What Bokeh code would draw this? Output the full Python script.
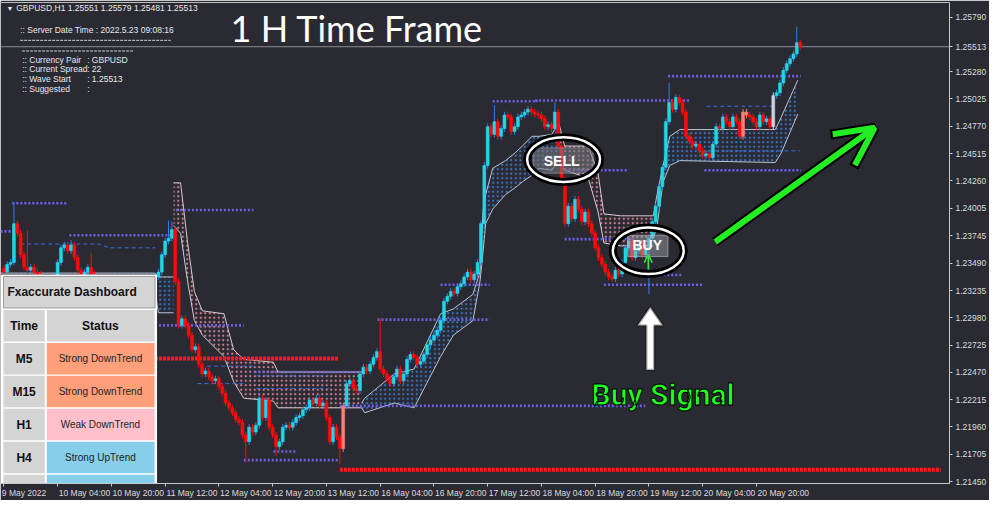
import numpy as np
from bokeh.plotting import figure
from bokeh.models import Range1d, FixedTicker, PrintfTickFormatter, Arrow, OpenHead, PolyAnnotation, Span
from bokeh.core.properties import value
from bokeh.embed import file_html
from bokeh.resources import INLINE

# ---------------- data ----------------
closes = [
    1.23407, 1.23480, 1.23498, 1.23860, 1.23770, 1.23570, 1.23453, 1.23425, 1.23453, 1.23407,
    1.23389, 1.23317, 1.23271, 1.23298, 1.23335, 1.23362, 1.23498, 1.23634, 1.23661, 1.23607,
    1.23661, 1.23543, 1.23425, 1.23380, 1.23407, 1.23453, 1.23389, 1.23317, 1.23271, 1.23226,
    1.23244, 1.23208, 1.23226, 1.23262, 1.23226, 1.23199, 1.23244, 1.23226, 1.23262, 1.23226,
    1.23244, 1.23271, 1.23253, 1.23298, 1.23317, 1.23362, 1.23407, 1.23570, 1.23697, 1.23724,
    1.23806, 1.23317, 1.22909, 1.22972, 1.22909, 1.22818, 1.22682, 1.22710, 1.22546, 1.22456,
    1.22483, 1.22429, 1.22392, 1.22410, 1.22338, 1.22275, 1.22184, 1.22139, 1.22093, 1.22030,
    1.22003, 1.21885, 1.21822, 1.21958, 1.21912, 1.21976, 1.22229, 1.22048, 1.22211, 1.21958,
    1.21885, 1.21776, 1.21822, 1.21958, 1.21976, 1.21958, 1.22003, 1.22048, 1.22066, 1.22121,
    1.22139, 1.22211, 1.22184, 1.22229, 1.22157, 1.22184, 1.22048, 1.21822, 1.21958, 1.21867,
    1.21758, 1.22157, 1.22365, 1.22392, 1.22320, 1.22302, 1.22456, 1.22519, 1.22483, 1.22546,
    1.22610, 1.22664, 1.22501, 1.22456, 1.22410, 1.22365, 1.22429, 1.22501, 1.22392, 1.22456,
    1.22592, 1.22637, 1.22610, 1.22546, 1.22574, 1.22637, 1.22728, 1.22773, 1.22818, 1.22864,
    1.22954, 1.23135, 1.23181, 1.23226, 1.23208, 1.23271, 1.23298, 1.23362, 1.23407, 1.23335,
    1.23389, 1.23498, 1.23860, 1.24404, 1.24766, 1.24694, 1.24812, 1.24676, 1.24748, 1.24875,
    1.24857, 1.24721, 1.24766, 1.24857, 1.24875, 1.24902, 1.24929, 1.24902, 1.24884, 1.24875,
    1.24839, 1.24766, 1.24785, 1.24748, 1.24902, 1.24585, 1.24268, 1.23860, 1.24023, 1.23906,
    1.24087, 1.23996, 1.23878, 1.23969, 1.23860, 1.23770, 1.23634, 1.23543, 1.23480, 1.23407,
    1.23362, 1.23344, 1.23425, 1.23389, 1.23498, 1.23634, 1.23697, 1.23543, 1.23607, 1.23661,
    1.23570, 1.23634, 1.23724, 1.23878, 1.24023, 1.24205, 1.24386, 1.24812, 1.24993, 1.24929,
    1.25038, 1.24993, 1.24902, 1.24676, 1.24630, 1.24585, 1.24603, 1.24540, 1.24495, 1.24513,
    1.24476, 1.24603, 1.24766, 1.24748, 1.24857, 1.24812, 1.24766, 1.24857, 1.24812, 1.24676,
    1.24902, 1.24875, 1.24857, 1.24812, 1.24766, 1.24875, 1.24812, 1.24839, 1.24766, 1.25056,
    1.25083, 1.25174, 1.25292, 1.25355, 1.25401, 1.25446, 1.25551, 1.25513,
]
first_open = 1.23440
high_marks = {3: 1.24059, 7: 1.23797, 20: 1.23706, 26: 1.23588, 49: 1.23888, 50: 1.23879,
              112: 1.22972, 146: 1.24966, 164: 1.24993, 198: 1.25174, 236: 1.25700, 237: 1.25579}
low_marks = {72: 1.21622, 81: 1.21685, 100: 1.21613, 181: 1.23317, 192: 1.23199, 237: 1.25481}
typical_wick = 0.00030
special_colors = {101: "#fa8072", 220: "#fa8072", 221: "#fa8072", 229: "#c9d3e6"}

# cloud band segments (candle index, upper, lower)
blue1_idx = [-1.0, 45.0, 46.0, 50.5]
blue1_top = [1.23398, 1.23398, 1.23362, 1.23362]
blue1_bot = [1.23226, 1.23226, 1.23027, 1.23027]
pink1_idx = [50.5, 52.6, 54.7, 56.7, 59.1, 65.5, 68.4, 71.4, 80.2, 81.6, 106.5]
pink1_top = [1.24241, 1.24241, 1.23679, 1.23226, 1.23045, 1.23018, 1.22682, 1.22592, 1.22565, 1.22474, 1.22474]
pink1_bot = [1.23842, 1.23770, 1.23317, 1.22954, 1.22818, 1.22619, 1.22383, 1.22229, 1.22202, 1.22139, 1.22139]
blue2_idx = [106.5, 107.4, 116.2, 122.1, 130.0, 133.8, 139.6, 141.7, 142.6, 143.4, 145.5, 149.3, 152.2,
             154.3, 157.2, 159.3, 163.1, 165.1]
blue2_top = [1.22184, 1.22229, 1.22456, 1.22501, 1.23018, 1.23063, 1.23199, 1.23407, 1.23978, 1.24132,
             1.24377, 1.24449, 1.24522, 1.24585, 1.24676, 1.24676, 1.24694, 1.24811]
blue2_bot = [1.22139, 1.22093, 1.22184, 1.22139, 1.22619, 1.22818, 1.22954, 1.23317, 1.23588, 1.23860,
             1.23996, 1.24132, 1.24196, 1.24250, 1.24313, 1.24377, 1.24359, 1.24449]
pink2_idx = [165.1, 166.9, 173.9, 176.8, 178.6, 183.6, 193.3]
pink2_top = [1.24811, 1.24585, 1.24585, 1.24341, 1.23951, 1.23933, 1.23933]
pink2_bot = [1.24449, 1.24359, 1.24286, 1.23978, 1.23679, 1.23652, 1.23652]
blue3_idx = [193.3, 194.4, 196.2, 198.2, 201.2, 229.6, 231.4, 236.3]
blue3_top = [1.23933, 1.24132, 1.24404, 1.24676, 1.24739, 1.24739, 1.24857, 1.25201]
blue3_bot = [1.23724, 1.23833, 1.24250, 1.24404, 1.24449, 1.24431, 1.24522, 1.24884]

# dotted support / resistance levels
level_start = [2.5, -1.0, 19.5, 51.2, 45.0, 74.6, 71.4, 111.2, 145.5, 158.1, 166.9, 166.9, 178.6,
               130.0, 100.0, 197.7, 208.5, 190.3, 80.2]
level_end = [18.9, 4.0, 49.7, 74.3, 71.4, 106.5, 99.5, 144.6, 158.9, 204.1, 186.0, 187.4, 207.9,
             144.6, 190.9, 237.2, 237.2, 202.1, 86.9]
level_price = [1.24051, 1.23788, 1.23752, 1.23987, 1.22909, 1.22474, 1.21650, 1.22963, 1.25003,
               1.25011, 1.24359, 1.23715, 1.23289, 1.23289, 1.22157, 1.25238, 1.24359, 1.23380, 1.21731]
red_start = [45.0, 100.0]
red_end = [99.5, 278.8]
red_price = [1.22601, 1.21560]
dash_xs = [[4.9, 28.3, 31.2, 45.0], [60.5, 74.3], [57.6, 72.2], [75.2, 96.6], [75.2, 96.6],
           [209.1, 229.6], [209.4, 236.9]]
dash_ys = [[1.23670, 1.23670, 1.23634, 1.23634], [1.22528, 1.22528], [1.22365, 1.22365],
           [1.22438, 1.22438], [1.22320, 1.22320], [1.24957, 1.24957], [1.24540, 1.24540]]

ytick_vals = [1.21450, 1.21705, 1.21960, 1.22215, 1.22470, 1.22725, 1.22980, 1.23235, 1.23490,
              1.23745, 1.24005, 1.24260, 1.24515, 1.24770, 1.25025, 1.25280, 1.25513, 1.25790]
xtick_idx = [0, 16, 32, 48, 64, 80, 96, 112, 128, 144, 160, 176, 192, 208, 224]
xtick_labels = ["9 May 2022", "10 May 04:00", "10 May 20:00", "11 May 12:00", "12 May 04:00",
                "12 May 20:00", "13 May 12:00", "16 May 04:00", "16 May 20:00", "17 May 12:00",
                "18 May 04:00", "18 May 20:00", "19 May 12:00", "20 May 04:00", "20 May 20:00"]

dash_times = ["M5", "M15", "H1", "H4", ""]
dash_status = ["Strong DownTrend", "Strong DownTrend", "Weak DownTrend", "Strong UpTrend", ""]
dash_colors = ["#ffa07a", "#ffa07a", "#ffc0cb", "#87ceeb", "#87ceeb"]

# ---------------- figure ----------------
BG = "#2a2a33"
XA, XB = -1.0, 281.45
YT, YB = 1.259262, 1.214319


def PX(px):
    return XA + px * (XB - XA) / 964.0


def PY(py):
    return YT - (py - 2.0) * (YT - YB) / 496.0


SX = (XB - XA) / 964.0
SY = (YT - YB) / 496.0

p = figure(width=989, height=500, x_range=Range1d(XA, XB), y_range=Range1d(YB, YT),
           output_backend="svg", toolbar_location=None, y_axis_location="right",
           background_fill_color=BG, border_fill_color=BG,
           min_border_left=0, min_border_right=0, min_border_top=2, min_border_bottom=0)
p.grid.visible = False
p.outline_line_color = "#bdbdbd"

ya = p.yaxis[0]
ya.ticker = FixedTicker(ticks=ytick_vals)
ya.formatter = PrintfTickFormatter(format="%.5f")
ya.major_label_text_font = "Liberation Sans"
ya.major_label_text_font_size = "8.5px"
ya.major_label_text_color = "#dcdcdc"
ya.axis_line_color = "#c8c8c8"
ya.major_tick_line_color = "#c8c8c8"
ya.major_tick_in = 0
ya.major_tick_out = 3
ya.minor_tick_out = 0
ya.major_label_standoff = 3

centers = [xtick_idx[0] + 6] + [t + 8 for t in xtick_idx[1:]]
xa = p.xaxis[0]
xa.ticker = FixedTicker(ticks=centers, minor_ticks=xtick_idx)
xa.major_label_overrides = {c: lab for c, lab in zip(centers, xtick_labels)}
xa.major_label_text_font = "Liberation Sans"
xa.major_label_text_font_size = "8.5px"
xa.major_label_text_color = "#dcdcdc"
xa.axis_line_color = "#c8c8c8"
xa.major_tick_in = 0
xa.major_tick_out = 0
xa.minor_tick_in = 0
xa.minor_tick_out = 3
xa.minor_tick_line_color = "#c8c8c8"
xa.major_label_standoff = 1

# current price line
p.add_layout(Span(location=closes[-1], dimension="width", line_color="#8c8c8c", line_width=1, level="underlay"))

# cloud band
bands = [(blue1_idx, blue1_top, blue1_bot, "#3a78c8", "#b8c4d0"),
         (pink1_idx, pink1_top, pink1_bot, "#d88494", "#d8c8cc"),
         (blue2_idx, blue2_top, blue2_bot, "#3a78c8", "#b8c4d0"),
         (pink2_idx, pink2_top, pink2_bot, "#d88494", "#d8c8cc"),
         (blue3_idx, blue3_top, blue3_bot, "#3a78c8", "#b8c4d0")]
for xs, top, bot, hcol, lcol in bands:
    p.varea(x=xs, y1=bot, y2=top, fill_color=BG, fill_alpha=0.0, hatch_pattern="dot",
            hatch_color=hcol, hatch_scale=4.5, hatch_weight=1.1, hatch_alpha=0.95)
    p.line(xs, top, line_color=lcol, line_width=1)
    p.line(xs, bot, line_color=lcol, line_width=1)

# levels
p.segment(x0=level_start, y0=level_price, x1=level_end, y1=level_price,
          line_color="#6c60e4", line_width=2.6, line_dash="2 2")
p.segment(x0=red_start, y0=red_price, x1=red_end, y1=red_price,
          line_color="#ff1a1a", line_width=4, line_dash="3 1")
p.multi_line(xs=dash_xs, ys=dash_ys, line_color="#3d6fe0", line_width=1, line_dash="4 3")

# candles
n = len(closes)
idx = list(range(n))
opens = [first_open] + closes[:-1]
highs, lows, tops, bots, bcol, wcol = [], [], [], [], [], []
for i, (o, c) in enumerate(zip(opens, closes)):
    up = c >= o
    highs.append(high_marks.get(i, max(o, c) + typical_wick))
    lows.append(low_marks.get(i, min(o, c) - typical_wick))
    tops.append(max(o, c))
    bots.append(min(o, c))
    col = special_colors.get(i, "#1ed8e6" if up else "#ff0a0a")
    bcol.append(col)
    wcol.append(special_colors.get(i, "#2f7ff0" if up else "#ff0a0a"))
p.segment(x0=idx, y0=highs, x1=idx, y1=lows, line_color=wcol, line_width=1)
p.vbar(x=idx, width=0.86, top=tops, bottom=bots, fill_color=bcol, line_color=bcol, line_width=0.6)

# ---------------- header texts ----------------
TF = value("Liberation Sans")
p.text(x=[PX(6)], y=[PY(8)], text=["\u25bc"], text_font=TF, text_font_size="7px",
       text_color="#e8e8e8", text_baseline="middle")
p.text(x=[PX(16)], y=[PY(8)], text=["GBPUSD,H1  1.25551 1.25579 1.25481 1.25513"], text_font=TF,
       text_font_size="8.5px", text_color="#e8e8e8", text_baseline="middle")
p.text(x=[PX(20)], y=[PY(30)], text=[":: Server Date Time : 2022.5.23   09:08:16"], text_font=TF,
       text_font_size="8.5px", text_color="#e8e8e8", text_baseline="middle")
p.segment(x0=[PX(20), PX(22)], y0=[PY(41), PY(52)], x1=[PX(173), PX(135)], y1=[PY(41), PY(52)],
          line_color="#d0d0d0", line_width=1, line_dash="3 1")
info_labels = [":: Currency Pair", ":: Current Spread", ":: Wave Start", ":: Suggested"]
info_values = [":  GBPUSD", ":  22", ":  1.25513", ":"]
info_y = [PY(61), PY(71), PY(81), PY(91)]
p.text(x=[PX(22)] * 4, y=info_y, text=info_labels, text_font=TF, text_font_size="8.5px",
       text_color="#e8e8e8", text_baseline="middle")
p.text(x=[PX(88)] * 4, y=info_y, text=info_values, text_font=TF, text_font_size="8.5px",
       text_color="#e8e8e8", text_baseline="middle")

p.text(x=[PX(362)], y=[PY(28)], text=["1 H Time Frame"], text_font=value("Lato"),
       text_font_size="36px", text_color="#ffffff", text_align="center", text_baseline="middle")

# ---------------- SELL / BUY markers ----------------
p.quad(left=[PX(541)], right=[PX(602)], top=[PY(152)], bottom=[PY(178)],
       fill_color="#7a7a80", fill_alpha=0.55, line_color="#a0a0a8", line_alpha=0.6)
p.quad(left=[PX(637)], right=[PX(678)], top=[PY(242)], bottom=[PY(264)],
       fill_color="#a8aab0", fill_alpha=0.45, line_color="#c0c0c8", line_alpha=0.6)
ell_x = [PX(572), PX(658)]
ell_y = [PY(164), PY(258)]
p.ellipse(x=ell_x, y=ell_y, width=[74 * SX, 72 * SX], height=[46 * SY, 48 * SY],
          fill_color=None, line_color="#000000", line_width=8)
p.ellipse(x=ell_x, y=ell_y, width=[74 * SX, 72 * SX], height=[46 * SY, 48 * SY],
          fill_color=None, line_color="#ffffff", line_width=2.5)
p.text(x=[PX(570), PX(657)], y=[PY(165), PY(252)], text=["SELL", "BUY"], text_font=TF,
       text_font_style="bold", text_font_size="14px", text_color="#ffffff",
       text_align="center", text_baseline="middle")
p.add_layout(Arrow(end=OpenHead(size=8, line_color="#40e040", line_width=1.5),
                   x_start=PX(658), y_start=PY(277), x_end=PX(658), y_end=PY(262),
                   line_color="#40e040", line_width=1.5))

# big white arrow
p.add_layout(PolyAnnotation(
    xs=[PX(660), PX(673), PX(664), PX(664), PX(656), PX(656), PX(647)],
    ys=[PY(316), PY(335), PY(335), PY(381), PY(381), PY(335), PY(335)],
    fill_color="#ffffff", fill_alpha=1.0, line_color="#000000", line_width=2.5))

# green trend arrow
p.add_layout(Arrow(end=OpenHead(size=40, line_color="#000000", line_width=10),
                   x_start=PX(726), y_start=PY(249), x_end=PX(888), y_end=PY(131),
                   line_color="#000000", line_width=10))
p.add_layout(Arrow(end=OpenHead(size=38, line_color="#22ee22", line_width=6),
                   x_start=PX(726), y_start=PY(249), x_end=PX(888), y_end=PY(131),
                   line_color="#22ee22", line_width=6))

try:
    p.text(x=[PX(673)], y=[PY(406)], text=["Buy Signal"], text_font=value("Roboto"),
           text_font_size="30px", text_font_style="bold", text_color="#22ff22",
           text_outline_color="#000000", text_align="center", text_baseline="middle")
except Exception:
    p.text(x=[PX(673)], y=[PY(406)], text=["Buy Signal"], text_font=value("Roboto"),
           text_font_size="30px", text_font_style="bold", text_color="#22ff22",
           text_align="center", text_baseline="middle")

# ---------------- dashboard ----------------
p.quad(left=[PX(1)], right=[PX(158.5)], top=[PY(283)], bottom=[PY(520)],
       fill_color="#ffffff", line_color="#ffffff")
p.quad(left=[PX(3)], right=[PX(157)], top=[PY(284.5)], bottom=[PY(317)],
       fill_color="#d4d4d4", line_color="#9a9a9a", line_width=1)
p.text(x=[PX(7)], y=[PY(301)], text=["Fxaccurate Dashboard"], text_font=TF,
       text_font_style="bold", text_font_size="12px", text_color="#111111", text_baseline="middle")
row_tops = [319, 353, 387, 421, 455, 489]
lq, rq, tq, bq, cq = [], [], [], [], []
for k, rt in enumerate(row_tops):
    lq += [PX(3), PX(47)]
    rq += [PX(45), PX(156.5)]
    tq += [PY(rt), PY(rt)]
    bq += [PY(rt + 32.5), PY(rt + 32.5)]
    cq += ["#d4d4d4", "#d4d4d4" if k == 0 else dash_colors[k - 1]]
p.quad(left=lq, right=rq, top=tq, bottom=bq, fill_color=cq, line_color=None)
row_mid = [PY(rt + 16.5) for rt in row_tops]
p.text(x=[PX(24), PX(101.5)], y=[row_mid[0]] * 2, text=["Time", "Status"], text_font=TF,
       text_font_style="bold", text_font_size="12px", text_color="#111111",
       text_align="center", text_baseline="middle")
p.text(x=[PX(24)] * 5, y=row_mid[1:], text=dash_times, text_font=TF, text_font_style="bold",
       text_font_size="12px", text_color="#111111", text_align="center", text_baseline="middle")
p.text(x=[PX(101.5)] * 5, y=row_mid[1:], text=dash_status, text_font=TF,
       text_font_size="10px", text_color="#222222", text_align="center", text_baseline="middle")

open("out.html", "w").write(file_html(p, INLINE))
